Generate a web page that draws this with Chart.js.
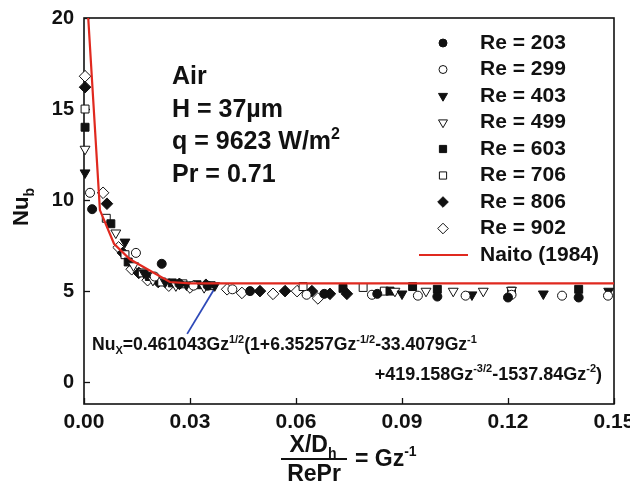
<!DOCTYPE html>
<html>
<head>
<meta charset="utf-8">
<script src="https://cdn.jsdelivr.net/npm/chart.js@4.4.0/dist/chart.umd.min.js"></script>
<style>
  html, body { margin: 0; padding: 0; background: #fff; }
</style>
</head>
<body>
<canvas id="nuChart" width="630" height="486"></canvas>
<script>
const FONT = '"Liberation Sans", Arial, Helvetica, sans-serif';
const INK = "#111";

// ======== Data (Gz^-1, Nu_b) ========
const re203 = [[0.0023, 9.5], [0.022, 6.5], [0.027, 5.4], [0.035, 5.3], [0.047, 5.0], [0.068, 4.85], [0.083, 4.85], [0.100, 4.7], [0.120, 4.65], [0.140, 4.65]];
const re299 = [[0.0017, 10.4], [0.0147, 7.1], [0.020, 5.8], [0.031, 5.3], [0.042, 5.1], [0.063, 4.8], [0.0815, 4.8], [0.0945, 4.75], [0.108, 4.75], [0.121, 4.8], [0.1353, 4.75], [0.1483, 4.75]];
const re403 = [[0.0003, 11.5], [0.0116, 7.7], [0.017, 6.0], [0.023, 5.5], [0.029, 5.35], [0.037, 5.3], [0.090, 4.85], [0.1098, 4.8], [0.130, 4.85], [0.1485, 5.0]];
const re499 = [[0.0003, 12.8], [0.009, 8.2], [0.014, 6.4], [0.0195, 5.6], [0.026, 5.3], [0.034, 5.2], [0.088, 5.0], [0.0968, 5.0], [0.1045, 5.0], [0.113, 5.0], [0.121, 5.05]];
const re603 = [[0.0003, 14.0], [0.0076, 8.7], [0.0125, 6.6], [0.0185, 5.8], [0.025, 5.45], [0.032, 5.35], [0.0733, 5.15], [0.0866, 5.0], [0.093, 5.25], [0.100, 5.1], [0.140, 5.1]];
const re706 = [[0.0003, 15.0], [0.0063, 9.0], [0.0116, 7.0], [0.0165, 6.0], [0.022, 5.5], [0.028, 5.4], [0.036, 5.3], [0.062, 5.25], [0.079, 5.2], [0.085, 5.0], [0.121, 5.0]];
const re806 = [[0.0003, 16.2], [0.0065, 9.8], [0.011, 7.1], [0.0155, 6.0], [0.021, 5.5], [0.027, 5.4], [0.0345, 5.35], [0.0498, 5.0], [0.0569, 5.0], [0.0645, 5.0], [0.0696, 4.85], [0.0744, 4.85]];
const re902 = [[0.0003, 16.8], [0.0054, 10.4], [0.0098, 7.4], [0.0135, 6.2], [0.018, 5.6], [0.024, 5.3], [0.030, 5.2], [0.0405, 5.1], [0.0447, 4.9], [0.0535, 4.85], [0.0603, 5.0], [0.0662, 4.6]];
const naito = [[0.0012, 20.0], [0.0045, 9.45], [0.0085, 7.6], [0.013, 6.75], [0.0243, 5.5], [0.030, 5.42], [0.150, 5.42]];
const pointer = [[0.0292, 2.65], [0.0379, 5.45]];

const series = [re203, re299, re403, re499, re603, re706, re806, re902];
const seriesLabels = ["Re = 203", "Re = 299", "Re = 403", "Re = 499", "Re = 603", "Re = 706", "Re = 806", "Re = 902"];
const naitoLabel = "Naito (1984)";
const xTickLabels = ["0.00", "0.03", "0.06", "0.09", "0.12", "0.15"];
const yTickLabels = ["0", "5", "10", "15", "20"];

// marker styles per series
const shapes = ["circle", "circle", "triangle", "triangle", "rect", "rect", "rectRot", "rectRot"];
const filled = [true, false, true, false, true, false, true, false];
const radii = [4.5, 4.5, 5.7, 5.7, 5.6, 5.6, 5.8, 5.8];
const rotations = [0, 0, 180, 180, 0, 0, 0, 0];

const toXY = (arr) => arr.map(([x, y]) => ({ x, y }));

const datasets = series.map((s, i) => ({
  type: "scatter",
  label: seriesLabels[i],
  data: toXY(s),
  pointStyle: shapes[i],
  pointRadius: radii[i],
  pointRotation: rotations[i],
  pointBackgroundColor: filled[i] ? INK : "#fff",
  pointBorderColor: INK,
  pointBorderWidth: 1,
  clip: false,
}));
datasets.push({
  type: "line",
  label: naitoLabel,
  data: toXY(naito),
  borderColor: "#e0291f",
  borderWidth: 2.2,
  pointRadius: 0,
  tension: 0,
  order: -1,
});
datasets.push({
  type: "line",
  label: "pointer",
  data: toXY(pointer),
  borderColor: "#2e49b8",
  borderWidth: 1.8,
  pointRadius: 0,
  tension: 0,
});

// ======== Text helpers ========
function partFont(size, mode) {
  const s = mode === "n" ? size : Math.round(size * 0.62);
  return `bold ${s}px ${FONT}`;
}
function richWidth(ctx, parts, size) {
  let w = 0;
  parts.forEach(([t, m]) => { ctx.font = partFont(size, m); w += ctx.measureText(t).width; });
  return w;
}
function drawRich(ctx, parts, x, y, size, align) {
  const w = richWidth(ctx, parts, size);
  let cx = align === "right" ? x - w : align === "center" ? x - w / 2 : x;
  ctx.textAlign = "left";
  ctx.textBaseline = "alphabetic";
  parts.forEach(([t, m]) => {
    ctx.font = partFont(size, m);
    const dy = m === "sup" ? -size * 0.42 : m === "sub" ? size * 0.25 : 0;
    ctx.fillText(t, cx, y + dy);
    cx += ctx.measureText(t).width;
  });
}

const notes = [
  [["Air", "n"]],
  [["H = 37\u00b5m", "n"]],
  [["q = 9623 W/m", "n"], ["2", "sup"]],
  [["Pr = 0.71", "n"]],
];
const formula1 = [["Nu", "n"], ["X", "sub"], ["=0.461043Gz", "n"], ["1/2", "sup"], ["(1+6.35257Gz", "n"], ["-1/2", "sup"], ["-33.4079Gz", "n"], ["-1", "sup"]];
const formula2 = [["+419.158Gz", "n"], ["-3/2", "sup"], ["-1537.84Gz", "n"], ["-2", "sup"], [")", "n"]];

// ======== Plugin: frame, inward ticks, titles, notes, legend ========
const decor = {
  id: "decor",
  beforeDatasetsDraw(chart) {
    const { ctx, chartArea: a, scales: { x, y } } = chart;
    ctx.save();
    ctx.strokeStyle = INK;
    ctx.lineWidth = 1.6;
    ctx.strokeRect(a.left, a.top, a.right - a.left, a.bottom - a.top);
    ctx.lineWidth = 1.3;
    x.ticks.forEach((t) => {
      const px = Math.round(x.getPixelForValue(t.value)) + 0.5;
      ctx.beginPath(); ctx.moveTo(px, a.bottom); ctx.lineTo(px, a.bottom - 6); ctx.stroke();
    });
    y.ticks.forEach((t) => {
      const py = Math.round(y.getPixelForValue(t.value)) + 0.5;
      ctx.beginPath(); ctx.moveTo(a.left, py); ctx.lineTo(a.left + 6, py); ctx.stroke();
    });
    ctx.restore();
  },
  afterDraw(chart) {
    const { ctx } = chart;
    ctx.save();
    ctx.fillStyle = INK;

    // notes
    notes.forEach((line, i) => drawRich(ctx, line, 172, 84 + i * 32.7, 25, "left"));

    // formula
    drawRich(ctx, formula1, 92, 350, 17.6, "left");
    drawRich(ctx, formula2, 602, 380, 18, "right");

    // y title
    ctx.save();
    ctx.translate(28, 207);
    ctx.rotate(-Math.PI / 2);
    drawRich(ctx, [["Nu", "n"], ["b", "sub"]], 0, 0, 22, "center");
    ctx.restore();

    // x title
    drawRich(ctx, [["X/D", "n"], ["h", "sub"]], 313, 452, 23, "center");
    ctx.strokeStyle = INK;
    ctx.lineWidth = 2;
    ctx.beginPath(); ctx.moveTo(281, 459); ctx.lineTo(347, 459); ctx.stroke();
    drawRich(ctx, [["RePr", "n"]], 314, 481, 23, "center");
    drawRich(ctx, [["= Gz", "n"], ["-1", "sup"]], 355, 466, 23, "left");

    // legend
    const lx = 443, tx = 480, ly = 43, step = 26.5;
    ctx.textBaseline = "middle";
    ctx.textAlign = "left";
    seriesLabels.forEach((lab, i) => {
      const yy = ly + i * step;
      ctx.fillStyle = filled[i] ? INK : "#fff";
      ctx.strokeStyle = INK;
      ctx.lineWidth = 1;
      Chart.helpers.drawPoint(ctx, { pointStyle: shapes[i], radius: radii[i] - 0.5, rotation: rotations[i], borderWidth: 1 }, lx, yy);
      ctx.fillStyle = INK;
      ctx.font = `bold 21px ${FONT}`;
      ctx.textBaseline = "middle";
      ctx.fillText(lab, tx, yy);
    });
    const ny = ly + 8 * step;
    ctx.strokeStyle = "#e0291f";
    ctx.lineWidth = 2.2;
    ctx.beginPath(); ctx.moveTo(419, ny); ctx.lineTo(468, ny); ctx.stroke();
    ctx.fillStyle = INK;
    ctx.font = `bold 21px ${FONT}`;
    ctx.fillText(naitoLabel, tx, ny);
    ctx.restore();
  },
};

new Chart(document.getElementById("nuChart"), {
  data: { datasets },
  options: {
    responsive: false,
    animation: false,
    devicePixelRatio: 1,
    layout: { padding: { left: 0, right: 16, top: 18, bottom: 0 } },
    plugins: { legend: { display: false }, tooltip: { enabled: false } },
    scales: {
      x: {
        type: "linear",
        min: 0,
        max: 0.15,
        grid: { display: false, drawTicks: false },
        border: { display: false },
        ticks: {
          stepSize: 0.03,
          padding: 6,
          maxRotation: 0,
          color: INK,
          font: { family: FONT, size: 21, weight: "bold" },
          callback: (v, i) => xTickLabels[i],
        },
        afterFit: (scale) => { scale.height = 82; scale.paddingLeft = 0; scale.paddingRight = 0; },
      },
      y: {
        type: "linear",
        min: -1.2,
        max: 20,
        grid: { display: false, drawTicks: false },
        border: { display: false },
        ticks: {
          stepSize: 5,
          includeBounds: false,
          padding: 10,
          color: INK,
          font: { family: FONT, size: 20, weight: "bold" },
          callback: (v, i) => yTickLabels[i],
        },
        afterFit: (scale) => { scale.width = 84; scale.paddingTop = 0; scale.paddingBottom = 0; },
      },
    },
  },
  plugins: [decor],
});
</script>
</body>
</html>
